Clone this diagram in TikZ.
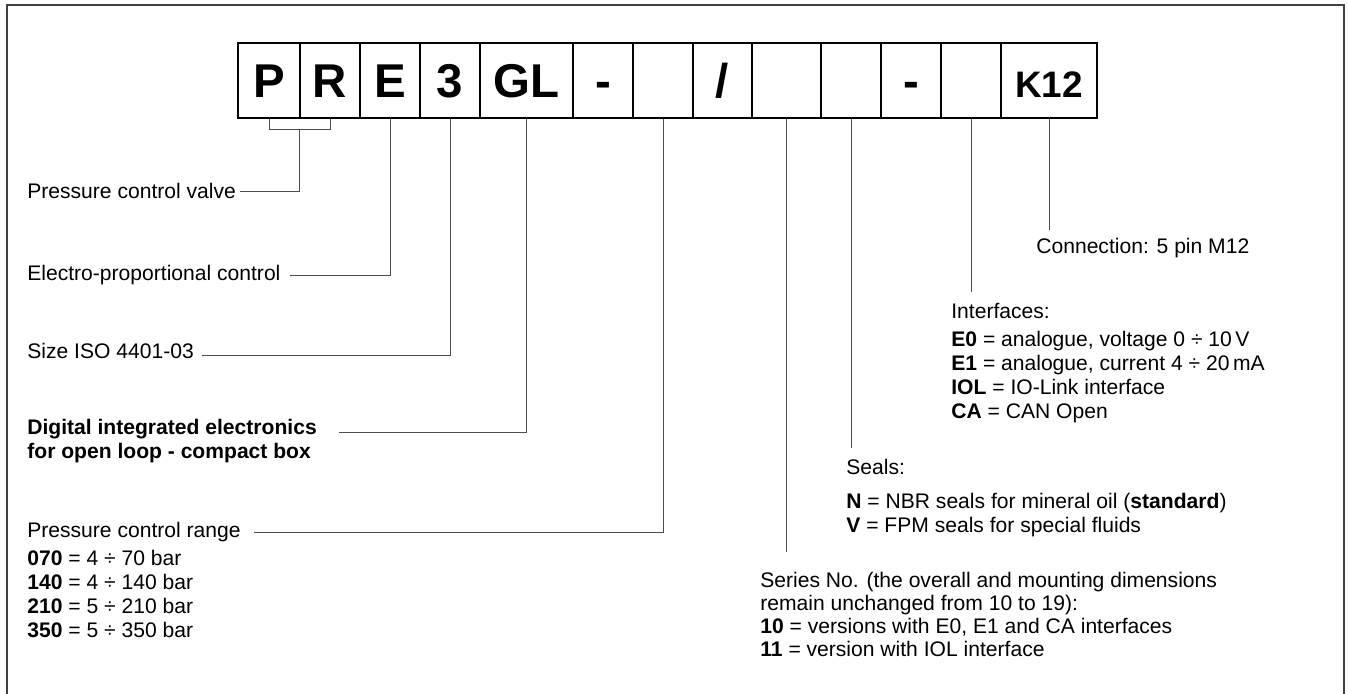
\documentclass[tikz,border=0pt]{standalone}
\usepackage{fontspec}
\setmainfont{Liberation Sans}
\usetikzlibrary{calc}
\tikzstyle{codebox}=[
        draw,
        line width=0.6pt,
        inner sep=0pt,
        minimum height=1.5cm,
        text height=19.3pt,
        text depth=0pt,
        font=\fontsize{27}{27}\selectfont\bfseries
]
\tikzstyle{desc}=[
        inner sep=0pt,
        align=left,
        font=\fontsize{12}{13.6}\selectfont
]
\tikzstyle{leader}=[
        draw=black!70,
        line width=0.55pt
]
\tikzstyle{frame}=[
        draw=black!75,
        line width=1.1pt
]

\begin{document}
\begin{tikzpicture}[x=0.02cm,y=-0.02cm]
                        \useasboundingbox (0,0) rectangle (1348,693);
                        \draw[frame] (7,697) -- (7,5) -- (1344,5) -- (1344,697);

                        \node[codebox, minimum width=1.24cm] (p) at (269,80.5) {P};
                        \node[codebox, minimum width=1.2cm] (r) at (330,80.5) {R};
                        \node[codebox, minimum width=1.2cm] (e) at (390,80.5) {E};
                        \node[codebox, minimum width=1.2cm] (three) at (450,80.5) {3};
                        \node[codebox, minimum width=1.86cm] (gl) at (526.5,80.5) {GL};
                        \node[codebox, minimum width=1.2cm] (dashA) at (603,80.5) {-};
                        \node[codebox, minimum width=1.2cm] (rng) at (663,80.5) {};
                        \node[codebox, minimum width=1.18cm] (sl) at (722.5,80.5) {/};
                        \node[codebox, minimum width=1.38cm] (ser) at (786.5,80.5) {};
                        \node[codebox, minimum width=1.2cm] (seal) at (851,80.5) {};
                        \node[codebox, minimum width=1.2cm] (dashB) at (911,80.5) {-};
                        \node[codebox, minimum width=1.2cm] (ifc) at (971,80.5) {};
                        \node[codebox, minimum width=1.92cm, font=\fontsize{21}{21}\selectfont\bfseries] (k12) at (1049,80.5) {K12};

                        \node[desc, anchor=west] (valve) at (27,191) {Pressure control valve};
                        \node[desc, anchor=west] (elec) at (27,275) {Electro-proportional control};
                        \node[desc, anchor=west] (size) at (27,351) {Size ISO 4401-03};
                        \node[desc, anchor=north west, font=\fontsize{12}{13.6}\selectfont\bfseries] (digi) at (27,419) {Digital integrated electronics\\for open loop - compact box};
                        \node[desc, anchor=north west] (pcr) at (27,522) {Pressure control range\\[2.3pt]
                            \textbf{070} = 4 ÷ 70 bar\\
                            \textbf{140} = 4 ÷ 140 bar\\
                            \textbf{210} = 5 ÷ 210 bar\\
                            \textbf{350} = 5 ÷ 350 bar};

                        \node[desc, anchor=west] (conn) at (1036,248) {Connection: 5 pin M12};
                        \node[desc, anchor=north west] (iface) at (951,303) {Interfaces:\\[2.3pt]
                            \textbf{E0} = analogue, voltage 0 ÷ 10\,V\\
                            \textbf{E1} = analogue, current 4 ÷ 20\,mA\\
                            \textbf{IOL} = IO-Link interface\\
                            \textbf{CA} = CAN Open};
                        \node[desc, anchor=north west] (seals) at (846,459) {Seals:\\[5.5pt]
                            \textbf{N} = NBR seals for mineral oil (\textbf{standard})\\
                            \textbf{V} = FPM seals for special fluids};
                        \node[desc, anchor=north west, font=\fontsize{12}{13.1}\selectfont] (series) at (760,572) {Series No. (the overall and mounting dimensions\\
                            remain unchanged from 10 to 19):\\
                            \textbf{10} = versions with E0, E1 and CA interfaces\\
                            \textbf{11} = version with IOL interface};

                        % leaders from the code boxes
                        \draw[leader] (p.south) -- ++(0,11) -| (r.south);
                        \coordinate (prjoin) at ($(p.south)!0.5!(r.south)+(0,11)$);
                        \draw[leader] (prjoin) |- ($(valve.east)+(4,0)$);
                        \draw[leader] (e.south) |- ($(elec.east)+(9,0)$);
                        \draw[leader] (three.south) |- ($(size.east)+(8,4)$);
                        \draw[leader] (gl.south) |- ($(digi.north east)+(22,13)$);
                        \draw[leader] (rng.south) |- ($(pcr.north east)+(13,10)$);
                        \draw[leader] (ser.south) -- ($(series.north west -| ser.south)+(0,-20)$);
                        \draw[leader] (seal.south) -- ($(seals.north -| seal.south)+(0,-11)$);
                        \draw[leader] (ifc.south) -- ($(iface.north -| ifc.south)+(0,-11)$);
                        \draw[leader] (k12.south) -- ($(conn.north -| k12.south)+(0,-8)$);
                    \end{tikzpicture}
\end{document}
